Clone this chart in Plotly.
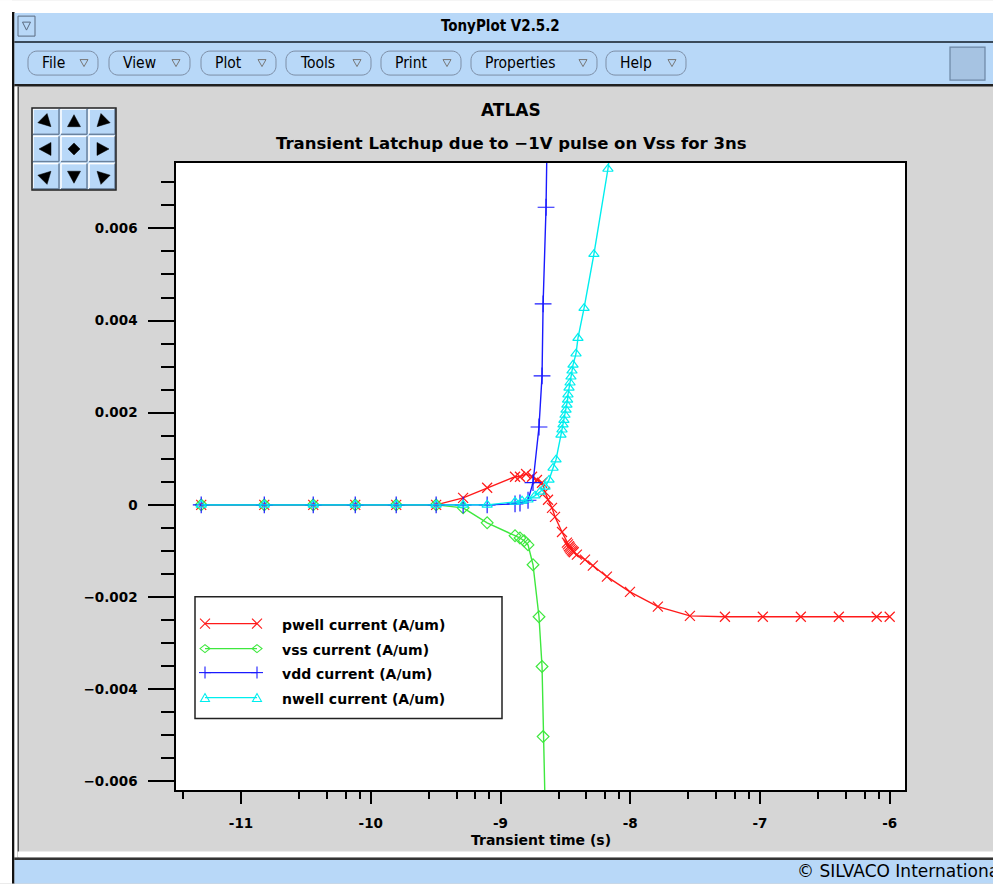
import plotly.graph_objects as go
import numpy as np

# ---------------- data (time in s, current in A/um) ----------------
t_pwell = [4.93e-12, 1.51e-11, 3.60e-11, 7.59e-11, 1.57e-10, 3.19e-10, 5.15e-10, 7.89e-10,
           1.294e-9, 1.413e-9, 1.574e-9, 1.750e-9, 1.91e-9, 2.089e-9, 2.203e-9, 2.323e-9,
           2.495e-9, 2.63e-9, 2.979e-9, 3.25e-9, 3.31e-9, 3.37e-9, 3.43e-9, 3.48e-9,
           3.55e-9, 3.61e-9, 3.67e-9, 3.88e-9, 4.48e-9, 5.15e-9, 6.61e-9, 9.95e-9,
           1.633e-8, 2.884e-8, 5.37e-8, 1.052e-7, 2.065e-7, 4.055e-7, 7.94e-7, 1.0e-6]
i_pwell = [0, 0, 0, 0, 0, 0, 0.00015, 0.00037,
           0.00061, 0.00061, 0.00067, 0.00061, 0.00054, 0.00048, 0.00028, 0.00011,
           -0.000065, -0.00026, -0.00059, -0.00082, -0.00086, -0.00090, -0.00093, -0.00096,
           -0.00099, -0.00101, -0.00103, -0.00108, -0.00119, -0.00132, -0.00156, -0.00189,
           -0.00221, -0.00241, -0.00243, -0.00243, -0.00243, -0.00243, -0.00243, -0.00243]

t_vss = [4.93e-12, 1.51e-11, 3.60e-11, 7.59e-11, 1.57e-10, 3.19e-10, 5.15e-10, 7.89e-10,
         1.294e-9, 1.413e-9, 1.52e-9, 1.63e-9, 1.78e-9, 1.98e-9, 2.09e-9, 2.13e-9, 2.29e-9]
i_vss = [0, 0, 0, 0, 0, 0, -0.000065, -0.00039,
         -0.00067, -0.00072, -0.00078, -0.00087, -0.0013, -0.00243, -0.00351, -0.00503, -0.0086]

t_vdd = [4.93e-12, 1.51e-11, 3.60e-11, 7.59e-11, 1.57e-10, 3.19e-10, 5.15e-10, 7.89e-10,
         1.294e-9, 1.413e-9, 1.63e-9, 1.78e-9, 1.98e-9, 2.09e-9, 2.13e-9, 2.244e-9, 2.34e-9]
i_vdd = [0, 0, 0, 0, 0, 0, 0, 0,
         0.00002, 0.00004, 0.0001, 0.00048, 0.00169, 0.0028, 0.00436, 0.00646, 0.0099]

t_nwell = [4.93e-12, 1.51e-11, 3.60e-11, 7.59e-11, 1.57e-10, 3.19e-10, 5.15e-10, 7.89e-10,
           1.294e-9, 1.466e-9, 1.63e-9, 1.845e-9, 2.014e-9, 2.203e-9, 2.366e-9, 2.541e-9,
           2.679e-9, 2.924e-9, 2.979e-9, 3.034e-9, 3.083e-9, 3.141e-9, 3.199e-9, 3.251e-9,
           3.289e-9, 3.311e-9, 3.373e-9, 3.436e-9, 3.491e-9, 3.556e-9, 3.622e-9, 3.819e-9,
           3.954e-9, 4.406e-9, 5.248e-9, 6.73e-9, 7.11e-9]
i_nwell = [0, 0, 0, 0, 0, 0, 0, 0,
           0.000065, 0.000087, 0.00011, 0.0002, 0.00028, 0.00039, 0.00054, 0.0008,
           0.00098, 0.00152, 0.00163, 0.00174, 0.00184, 0.00195, 0.00206, 0.00217,
           0.00228, 0.00239, 0.00254, 0.00265, 0.00278, 0.00291, 0.00304, 0.00328,
           0.00362, 0.00427, 0.00544, 0.00729, 0.0078]

series_names = ["pwell current (A/um)", "vss current (A/um)", "vdd current (A/um)", "nwell current (A/um)"]

x_tick_vals = [1e-11, 1e-10, 1e-9, 1e-8, 1e-7, 1e-6]
x_tick_text = ["-11", "-10", "-9", "-8", "-7", "-6"]
y_tick_vals = [-0.006, -0.004, -0.002, 0, 0.002, 0.004, 0.006]
y_tick_text = ["\u22120.006", "\u22120.004", "\u22120.002", "0", "0.002", "0.004", "0.006"]

main_title = "ATLAS"
sub_title = "Transient Latchup due to \u22121V pulse on Vss for 3ns"
x_title = "Transient time (s)"
window_title = "TonyPlot V2.5.2"
menu_labels = ["File", "View", "Plot", "Tools", "Print", "Properties", "Help"]
footer = "\u00a9 SILVACO International"

# ---------------- styling ----------------
colors = ["#ff1a1a", "#3ee83e", "#1a1aff", "#00eeee"]
symbols = ["x-thin-open", "diamond-open", "cross-thin-open", "triangle-up-open"]
msizes = [10, 9, 12, 9]

FW, FH = 993, 884
L, R, T, B = 176, 905, 163, 790.5
FONT = "DejaVu Sans"
COND = "DejaVu Sans Condensed, DejaVu Sans"
BLUE = "#b8d8f8"
GREY = "#d6d6d6"

def X(px):
    return (px - L) / (R - L)

def Y(py):
    return (B - py) / (B - T)

shapes = []
annotations = []

def rect(x0, y0, x1, y1, fill, line=None, lw=0):
    shapes.append(dict(type="rect", xref="paper", yref="paper",
                       x0=X(x0), x1=X(x1), y0=Y(y1), y1=Y(y0),
                       fillcolor=fill, line=dict(width=lw, color=line or fill), layer="above"))

def seg(x0, y0, x1, y1, color, w=1):
    shapes.append(dict(type="line", xref="paper", yref="paper",
                       x0=X(x0), x1=X(x1), y0=Y(y0), y1=Y(y1),
                       line=dict(width=w, color=color), layer="above"))

def poly(pts, fill=None, color="black", w=1, close=True):
    d = ""
    for k, (px, py) in enumerate(pts):
        d += ("M" if k == 0 else "L") + f"{X(px):.6f},{Y(py):.6f} "
    if close:
        d += "Z"
    shapes.append(dict(type="path", xref="paper", yref="paper", path=d,
                       fillcolor=fill if fill else "rgba(0,0,0,0)",
                       line=dict(width=w, color=color), layer="above"))

def pill(x0, y0, x1, y1, r, color="#7d8ea6", fill=None):
    k = 0.552 * r
    P = lambda a, b: f"{X(a):.6f},{Y(b):.6f}"
    d = (f"M{P(x0 + r, y0)} L{P(x1 - r, y0)} C{P(x1 - r + k, y0)} {P(x1, y0 + r - k)} {P(x1, y0 + r)} "
         f"L{P(x1, y1 - r)} C{P(x1, y1 - r + k)} {P(x1 - r + k, y1)} {P(x1 - r, y1)} "
         f"L{P(x0 + r, y1)} C{P(x0 + r - k, y1)} {P(x0, y1 - r + k)} {P(x0, y1 - r)} "
         f"L{P(x0, y0 + r)} C{P(x0, y0 + r - k)} {P(x0 + r - k, y0)} {P(x0 + r, y0)} Z")
    shapes.append(dict(type="path", xref="paper", yref="paper", path=d,
                       fillcolor=fill if fill else "rgba(0,0,0,0)",
                       line=dict(width=1, color=color), layer="above"))

def text(x, y, s, size, bold=False, color="black", xanchor="center", family=FONT):
    annotations.append(dict(x=X(x), y=Y(y), xref="paper", yref="paper", text=s, showarrow=False,
                            xanchor=xanchor, yanchor="middle",
                            font=dict(family=family, size=size, color=color,
                                      weight="bold" if bold else "normal")))

# ---------------- window chrome ----------------
rect(0, 0, FW, 13, "white")
rect(0, 0, 12, FH, "white")
rect(12, 12, 14.5, FH, "#111111")
rect(14.5, 13, FW, 41, BLUE)
rect(14.5, 41, FW, 43, "#3a4a5a")
rect(14.5, 43, FW, 84, BLUE)
rect(14.5, 84, FW, 86.5, "#202020")
rect(14.5, 86.5, 17.5, 858, "white")
rect(17.5, 86.5, 19, 858, "#555555")
rect(17.5, 852, FW, 858, "white")
rect(14.5, 858, FW, 860.5, "#333333")
rect(14.5, 860.5, FW, FH, BLUE)

# title bar button
rect(18, 16, 35, 36, BLUE, "#5a6a80", 1)
poly([(22.5, 22), (30.5, 22), (26.5, 30)], color="#5a6a80", w=1)
text(500, 26, window_title, 15, bold=True, family=COND)

# menu buttons
menu_x = [(28, 98), (109, 190), (201, 276), (286, 371), (381, 461), (471, 597), (606, 686)]
for lab, (a, b) in zip(menu_labels, menu_x):
    pill(a, 51, b, 75, 9)
    text(a + 12, 63, lab, 15.5, xanchor="left", family=COND)
    poly([(b - 18, 59.5), (b - 10, 59.5), (b - 14, 66.5)], color="#777777", w=1)
rect(950, 47, 985, 80, "#a6c3e2", "#6c86a4", 1.2)

# footer
text(795, 872, footer, 17, xanchor="left")

# navigation panel
nx0, ny0, cw, ch = 32, 108, 28, 27.3
dirs = [[(1, 1), (0, -1), (-1, 1)],
        [(-1, 0), None, (1, 0)],
        [(1, -1), (0, 1), (-1, -1)]]
for r in range(3):
    for c in range(3):
        x0 = nx0 + c * cw
        y0 = ny0 + r * ch
        rect(x0, y0, x0 + cw, y0 + ch, BLUE)
        seg(x0 + 1, y0 + 1, x0 + cw - 1, y0 + 1, "white", 1.5)
        seg(x0 + 1, y0 + 1, x0 + 1, y0 + ch - 1, "white", 1.5)
        seg(x0 + 1, y0 + ch - 1, x0 + cw - 1, y0 + ch - 1, "#6a829e", 1.5)
        seg(x0 + cw - 1, y0 + 1, x0 + cw - 1, y0 + ch - 1, "#6a829e", 1.5)
        cx, cy = x0 + cw / 2, y0 + ch / 2
        d = dirs[r][c]
        if d is None:
            poly([(cx - 6, cy), (cx, cy - 6), (cx + 6, cy), (cx, cy + 6)], fill="black", w=0.5)
        else:
            dx, dy = d
            n = (dx * dx + dy * dy) ** 0.5
            dx, dy = dx / n, dy / n
            px_, py_ = -dy, dx
            a, bb, w = 7, 5, 6.5
            pts = [(cx + a * dx, cy + a * dy),
                   (cx - bb * dx + w * px_, cy - bb * dy + w * py_),
                   (cx - bb * dx - w * px_, cy - bb * dy - w * py_)]
            poly(pts, fill="black", w=0.5)
rect(nx0, ny0, nx0 + 3 * cw, ny0 + 3 * ch, "rgba(0,0,0,0)", "#222222", 1.5)

# titles
text(511, 110, main_title, 17, bold=True)
text(511, 143, sub_title, 16.5, bold=True)
text(541, 841, x_title, 14, bold=True)

# legend (custom, TonyPlot style)
rect(195, 597, 502, 719, "white", "#222222", 1.5)
rows_y = [624, 649, 673, 698]
for k in range(4):
    yy = rows_y[k]
    col = colors[k]
    seg(205, yy, 257, yy, col, 1.3)
    for ex in (205, 257):
        if k == 0:
            seg(ex - 5, yy - 5, ex + 5, yy + 5, col, 1.1)
            seg(ex - 5, yy + 5, ex + 5, yy - 5, col, 1.1)
        elif k == 1:
            poly([(ex - 5, yy), (ex, yy - 4), (ex + 5, yy), (ex, yy + 4)], color=col, w=1.1)
        elif k == 2:
            seg(ex - 6, yy, ex + 6, yy, col, 1.1)
            seg(ex, yy - 6, ex, yy + 6, col, 1.1)
        else:
            poly([(ex - 4.5, yy + 4), (ex + 4.5, yy + 4), (ex, yy - 4)], color=col, w=1.1)
    text(280, yy + 1.5, series_names[k], 14, bold=True, xanchor="left")

# ---------------- traces ----------------
fig = go.Figure()
data = [(t_pwell, i_pwell), (t_vss, i_vss), (t_vdd, i_vdd), (t_nwell, i_nwell)]
for k, (tt, ii) in enumerate(data):
    fig.add_trace(go.Scatter(
        x=tt, y=ii, mode="lines+markers", name=series_names[k],
        line=dict(color=colors[k], width=1.4),
        marker=dict(symbol=symbols[k], size=msizes[k], color=colors[k],
                    line=dict(color=colors[k], width=1.2)),
        showlegend=False))

x_minor = [3.57e-12]
for n in range(-11, -6):
    for k in range(1, 5):
        x_minor.append((1 + 1.8 * k) * 10.0 ** n)
y_minor = [round(v, 5) for v in np.arange(-0.006, 0.0075, 0.0005) if abs(round(v / 0.002) * 0.002 - v) > 1e-9]

tickfont = dict(family=FONT, size=13.5, color="black", weight="bold")
fig.update_layout(
    width=FW, height=FH,
    margin=dict(l=L, r=FW - R, t=T, b=FH - B, autoexpand=False),
    paper_bgcolor=GREY, plot_bgcolor="white", showlegend=False,
    xaxis=dict(type="log", range=[-11.5015, -5.882], tickmode="array",
               tickvals=x_tick_vals, ticktext=x_tick_text,
               ticks="outside", ticklen=12, tickwidth=2, tickcolor="black",
               showline=True, linecolor="black", linewidth=1.5, mirror=True,
               showgrid=False, zeroline=False, tickfont=tickfont, ticklabelstandoff=8,
               minor=dict(tickmode="array", tickvals=x_minor, ticks="outside", ticklen=7,
                          tickwidth=1.5, tickcolor="black", showgrid=False)),
    yaxis=dict(range=[-0.00619, 0.00742], tickmode="array",
               tickvals=y_tick_vals, ticktext=y_tick_text,
               ticks="outside", ticklen=26, tickwidth=2, tickcolor="black",
               showline=True, linecolor="black", linewidth=1.5, mirror=True,
               showgrid=False, zeroline=False, tickfont=tickfont, ticklabelstandoff=8,
               minor=dict(tickmode="array", tickvals=y_minor, ticks="outside", ticklen=13,
                          tickwidth=1.5, tickcolor="black", showgrid=False)),
    shapes=shapes, annotations=annotations,
)

fig.write_html("out.html", config={"displayModeBar": False},
               post_script="document.body.style.margin='0';document.body.style.padding='0';"
                           "document.body.style.overflow='hidden';")
